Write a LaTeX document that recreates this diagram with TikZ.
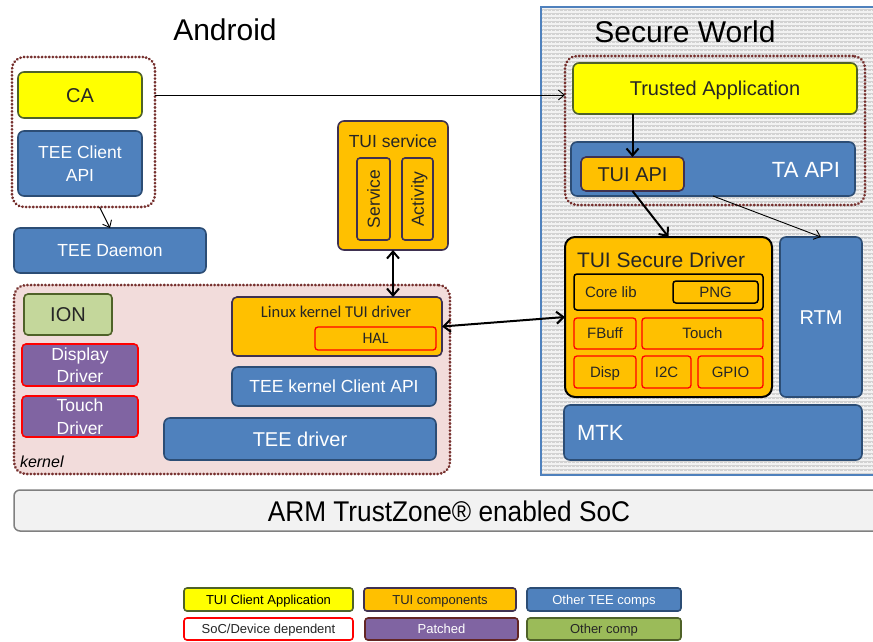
\documentclass[tikz,border=0pt]{standalone}
\usepackage{fontspec}
\setmainfont{Liberation Sans}
\newfontfamily\calibfont{Carlito}
\usetikzlibrary{arrows.meta}

\definecolor{cYel}{HTML}{FFFF00}
\definecolor{cYelBd}{HTML}{4F6228}
\definecolor{cOrg}{HTML}{FFC000}
\definecolor{cOrgBd}{HTML}{3F3151}
\definecolor{cBlu}{HTML}{4F81BD}
\definecolor{cBluBd}{HTML}{2C4D75}
\definecolor{cPur}{HTML}{8064A2}
\definecolor{cIon}{HTML}{C4D79B}
\definecolor{cGrn}{HTML}{9BBB59}
\definecolor{cPink}{HTML}{F2DCDB}
\definecolor{cGrp}{HTML}{76302E}
\definecolor{cPatBd}{HTML}{632523}
\definecolor{cSW}{HTML}{D2D2D2}
\definecolor{cSWl}{HTML}{F2F2F2}
\definecolor{cSoC}{HTML}{F2F2F2}
\definecolor{cTxt}{HTML}{262626}

% box from (x1,y1) to (x2,y2), in pixel-like units
\newcommand\mybox[6]{\node[#1, anchor=north west, minimum width={#4-#2}, minimum height={#5-#3}] (#6) at (#2,#3)}

\begin{document}
\begin{tikzpicture}[x=1pt,y=-1pt,
  every node/.style={inner sep=0pt, outer sep=0pt},
  % single-line text: box height = cap height, so capitals sit centred
  fs/.style={font=\fontsize{#1}{#1}\selectfont,
    /utils/exec={\pgfmathsetmacro\fsth{0.716*#1}}, text height/.expanded=\fsth pt, text depth=0pt},
  cfs/.style={font=\calibfont\fontsize{#1}{#1}\selectfont,
    /utils/exec={\pgfmathsetmacro\fsth{0.644*#1}}, text height/.expanded=\fsth pt, text depth=0pt},
  ml/.style={text height=, text depth=},
  base/.style={rounded corners=6pt, line width=1.6pt, align=center},
  yelbox/.style={base, fill=cYel, draw=cYelBd, text=cTxt},
  orgbox/.style={base, fill=cOrg, draw=cOrgBd, text=cTxt},
  blubox/.style={base, fill=cBlu, draw=cBluBd, text=white},
  purbox/.style={base, fill=cPur, draw=red, text=white, rounded corners=4pt},
  ionbox/.style={base, fill=cIon, draw=cYelBd, text=cTxt, rounded corners=4pt},
  redbox/.style={base, fill=cOrg, draw=red, rounded corners=3pt, line width=1.3pt, text=cTxt},
  blkbox/.style={base, fill=cOrg, draw=black, rounded corners=3pt, line width=1.5pt, text=cTxt},
  grpdot/.style={draw=cGrp, line width=2.8pt, dash pattern=on 0.3pt off 3.3pt, line cap=round, rounded corners=12pt},
  legbox/.style={rounded corners=3pt, line width=1.6pt, align=center, fs=13},
  thinarrow/.style={-{Straight Barb[length=6pt,width=10pt]}, line width=0.9pt},
  thickarrow/.style={-{Straight Barb[length=7pt,width=12pt]}, line width=2pt},
  dblarrow/.style={{Straight Barb[length=7pt,width=12pt]}-{Straight Barb[length=7pt,width=12pt]}, line width=2pt},
]
\useasboundingbox (0,0) rectangle (873,641);
\fill[white] (0,0) rectangle (873,641);

% ---------- Secure world background (textured grey) ----------
\begin{scope}
  \clip (541,7) rectangle (880,475);
  \fill[cSW] (541,7) rectangle (880,475);
  \foreach \yy in {8,12,...,476} \draw[cSWl, line width=1.3pt] (541,\yy) -- (880,\yy);
  \foreach \xx in {543,547,...,880} \draw[cSWl, line width=0.7pt, dash pattern=on 2pt off 2pt, dash phase=1pt] (\xx,7) -- (\xx,475);
\end{scope}
\draw[cBlu, line width=1.8pt] (880,7) -- (541,7) -- (541,475) -- (880,475);

% ---------- SoC bar ----------
\mybox{draw=black!50, fill=cSoC, rounded corners=6pt, line width=1.5pt}{14}{490}{885}{531}{soc} {};
\node[fs=28.5, xscale=0.92, text=black] (soclbl) at (449,511) {ARM TrustZone® enabled SoC};

% ---------- titles ----------
\node[fs=30, text=black] (android) at (225,30) {Android};
\node[fs=30, text=black] (secure) at (685,32) {Secure World};

% ---------- Android user space ----------
\mybox{grpdot}{12}{57}{155}{207}{cagrp} {};
\mybox{yelbox, fs=20}{18}{72}{142}{118}{ca} {CA};
\mybox{blubox, fs=17.5, ml}{18}{131}{142}{196}{tca} {TEE Client\\[5pt]API};
\mybox{blubox, fs=17.5}{14}{228}{206}{273}{daemon} {TEE Daemon};

\mybox{orgbox}{338}{121}{448}{250}{tuisvc} {};
\node[fs=17.5, text=cTxt] (tuisvclbl) at (393,141) {TUI service};
\mybox{orgbox, rounded corners=3pt}{357}{158}{390}{240}{svc} {};
\node[fs=17.5, text=cTxt, rotate=90] (svclbl) at (svc) {Service};
\mybox{orgbox, rounded corners=3pt}{402}{158}{433}{240}{act} {};
\node[fs=17.5, text=cTxt, rotate=90] (actlbl) at (act) {Activity};

% ---------- kernel ----------
\mybox{grpdot, fill=cPink}{14}{285}{450}{474}{kern} {};
\node[fs=16, text=black, anchor=west] (kernlbl) at (20,462) {\itshape kernel};
\mybox{ionbox, fs=20}{24}{294}{112}{335}{ion} {ION};
\mybox{purbox, fs=17.5, ml}{22}{344}{138}{386}{disp} {Display\\[5pt]Driver};
\mybox{purbox, fs=17.5, ml}{22}{396}{138}{437}{touch} {Touch\\[5pt]Driver};

\mybox{orgbox, rounded corners=5pt}{232}{297}{442}{356}{lktui} {};
\node[cfs=16.5, text=cTxt] (lktuilbl) at (336,312) {Linux kernel TUI driver};
\mybox{redbox, cfs=16}{315}{327}{436}{350}{hal} {HAL};
\mybox{blubox, fs=17.5}{232}{367}{436}{406}{tkca} {TEE kernel Client API};
\mybox{blubox, fs=20}{164}{418}{436}{460}{teedrv} {TEE driver};

% ---------- secure world ----------
\mybox{grpdot}{565}{56}{865}{205}{tagrp} {};
\mybox{yelbox, fs=20}{573}{63}{857}{114}{ta} {Trusted Application};
\mybox{blubox}{571}{142}{855}{196}{taapi} {};
\node[fs=22, text=white] (taapilbl) at (806,170) {TA API};
\mybox{orgbox, fs=20, rounded corners=5pt}{581}{157}{684}{191}{tuiapi} {TUI API};

\mybox{base, fill=cOrg, draw=black, line width=2pt, rounded corners=10pt}{565}{237}{772}{397}{tsd} {};
\node[fs=21, text=cTxt, anchor=west] (tsdlbl) at (577,260) {TUI Secure Driver};
\mybox{blkbox}{574}{274}{763}{310}{core} {};
\node[fs=15, text=cTxt, anchor=west] (corelbl) at (585,292) {Core lib};
\mybox{blkbox, fs=15}{673}{281}{758}{303}{png} {PNG};
\mybox{redbox, fs=15}{574}{318}{636}{349}{fbuff} {FBuff};
\mybox{redbox, fs=15}{642}{318}{763}{349}{tch} {Touch};
\mybox{redbox, fs=15}{574}{356}{636}{388}{dsp} {Disp};
\mybox{redbox, fs=15}{642}{356}{691}{388}{i2c} {I2C};
\mybox{redbox, fs=15}{698}{356}{763}{388}{gpio} {GPIO};

\mybox{blubox, fs=20}{780}{237}{862}{397}{rtm} {RTM};
\mybox{blubox}{564}{405}{862}{460}{mtk} {};
\node[fs=22, text=white, anchor=west] (mtklbl) at (577,433) {MTK};

% ---------- connectors ----------
\draw[thinarrow] (ca.east -| cagrp.east) -- (ca.east -| tagrp.west);
\draw[thinarrow] ([xshift=16pt]cagrp.south) -- (daemon.north);
\draw[dblarrow] (tuisvc.south) -- (tuisvc.south |- lktui.north);
\draw[dblarrow] (lktui.east) -- (tsd.west);
\draw[thickarrow] (tuiapi.north |- ta.south) -- (tuiapi.north);
\draw[thickarrow] (tuiapi.south) -- (tsd.north);
\draw[thinarrow] (taapi.south) -- (rtm.north);

% ---------- legend ----------
\mybox{legbox, fill=cYel, draw=cYelBd, text=black}{184}{588}{353}{611}{lg1} {TUI Client Application};
\mybox{legbox, fill=cOrg, draw=cOrgBd, text=cTxt}{364}{588}{516}{611}{lg2} {TUI components};
\mybox{legbox, fill=cBlu, draw=cBluBd, text=white}{527}{588}{681}{611}{lg3} {Other TEE comps};
\mybox{legbox, fill=white, draw=red, text=cTxt}{184}{618}{353}{640}{lg4} {SoC/Device dependent};
\mybox{legbox, fill=cPur, draw=cPatBd, text=white}{365}{618}{518}{640}{lg5} {Patched};
\mybox{legbox, fill=cGrn, draw=cYelBd, text=cTxt}{527}{618}{681}{640}{lg6} {Other comp};
\end{tikzpicture}
\end{document}
